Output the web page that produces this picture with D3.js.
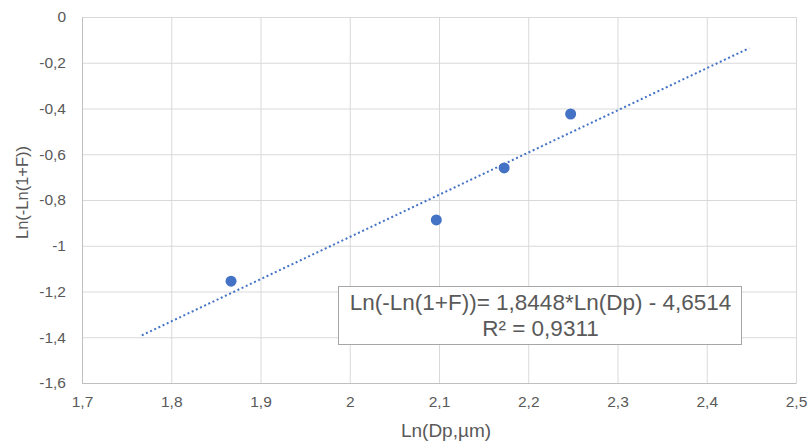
<!DOCTYPE html>
<html>
<head>
<meta charset="utf-8">
<script src="https://cdn.jsdelivr.net/npm/d3@7"></script>
<style>
  html, body { margin: 0; padding: 0; background: #fff; }
  svg { display: block; font-family: "Liberation Sans", Arial, sans-serif; }
</style>
</head>
<body>
<svg id="chart" width="812" height="442"></svg>
<script>
// Measured points: x = Ln(Dp, µm), y = Ln(-Ln(1+F))
const lnDp = [1.867, 2.097, 2.173, 2.2475];
const lnLnF = [-1.155, -0.887, -0.660, -0.424];

// Linear trendline, extended back 0.1 and forward 0.2
const slope = 1.8448;
const intercept = -4.6514;
const trendRange = [1.767, 2.4475];

const xTicks = [1.7, 1.8, 1.9, 2.0, 2.1, 2.2, 2.3, 2.4, 2.5];
const yTicks = [0, -0.2, -0.4, -0.6, -0.8, -1.0, -1.2, -1.4, -1.6];

const equationLines = ["Ln(-Ln(1+F))= 1,8448*Ln(Dp) - 4,6514", "R² = 0,9311"];
const xTitle = "Ln(Dp,µm)";
const yTitle = "Ln(-Ln(1+F))";

const locale = d3.formatLocale({ decimal: ",", thousands: " ", grouping: [3], currency: ["", ""], minus: "-" });
const fmt = locale.format("~g");

const svg = d3.select("#chart");
const plot = { left: 82, right: 796, top: 17, bottom: 383 };

const x = d3.scaleLinear().domain([1.7, 2.5]).range([plot.left, plot.right]);
const y = d3.scaleLinear().domain([-1.6, 0]).range([plot.bottom, plot.top]);

const textColor = "#595959";
const gridColor = "#d9d9d9";

// Gridlines
svg.append("g")
  .attr("transform", `translate(0,${plot.bottom})`)
  .call(d3.axisBottom(x).tickValues(xTicks).tickSize(-(plot.bottom - plot.top)).tickFormat(""))
  .call(g => g.select(".domain").remove())
  .call(g => g.selectAll("line").attr("stroke", gridColor).attr("stroke-width", 1));

svg.append("g")
  .attr("transform", `translate(${plot.left},0)`)
  .call(d3.axisLeft(y).tickValues(yTicks).tickSize(-(plot.right - plot.left)).tickFormat(""))
  .call(g => g.select(".domain").remove())
  .call(g => g.selectAll("line").attr("stroke", gridColor).attr("stroke-width", 1));

// Axis lines and labels
const xAxis = svg.append("g")
  .attr("transform", `translate(0,${plot.bottom})`)
  .call(d3.axisBottom(x).tickValues(xTicks).tickSize(0).tickPadding(13).tickFormat(fmt));
xAxis.select(".domain").attr("stroke", "#bfbfbf");
xAxis.selectAll("text").attr("fill", textColor).style("font-size", "15.5px");

const yAxis = svg.append("g")
  .attr("transform", `translate(${plot.left},0)`)
  .call(d3.axisLeft(y).tickValues(yTicks).tickSize(0).tickPadding(16).tickFormat(fmt));
yAxis.select(".domain").attr("stroke", "#bfbfbf");
yAxis.selectAll("text").attr("fill", textColor).style("font-size", "15.5px");

// Axis titles
svg.append("text")
  .attr("x", 446)
  .attr("y", 437)
  .attr("text-anchor", "middle")
  .attr("fill", textColor)
  .style("font-size", "19px")
  .text(xTitle);

svg.append("text")
  .attr("transform", `translate(28,192.5) rotate(-90)`)
  .attr("text-anchor", "middle")
  .attr("fill", textColor)
  .style("font-size", "16.5px")
  .text(yTitle);

// Trendline (dotted)
svg.append("line")
  .attr("x1", x(trendRange[0])).attr("y1", y(slope * trendRange[0] + intercept))
  .attr("x2", x(trendRange[1])).attr("y2", y(slope * trendRange[1] + intercept))
  .attr("stroke", "#4472c4")
  .attr("stroke-width", 2)
  .attr("stroke-dasharray", "2 2.6");

// Data points
svg.append("g")
  .selectAll("circle")
  .data(lnDp.map((d, i) => [d, lnLnF[i]]))
  .join("circle")
  .attr("cx", d => x(d[0]))
  .attr("cy", d => y(d[1]))
  .attr("r", 5.5)
  .attr("fill", "#4472c4");

// Equation label box
const box = svg.append("g");
box.append("rect")
  .attr("x", 338.5).attr("y", 286.5)
  .attr("width", 403).attr("height", 58)
  .attr("fill", "#fff")
  .attr("stroke", "#a6a6a6")
  .attr("stroke-width", 1);
box.selectAll("text")
  .data(equationLines)
  .join("text")
  .attr("x", 540.5)
  .attr("y", (d, i) => 309.5 + i * 26.5)
  .attr("text-anchor", "middle")
  .attr("fill", textColor)
  .style("font-size", "22.5px")
  .text(d => d);
</script>
</body>
</html>
